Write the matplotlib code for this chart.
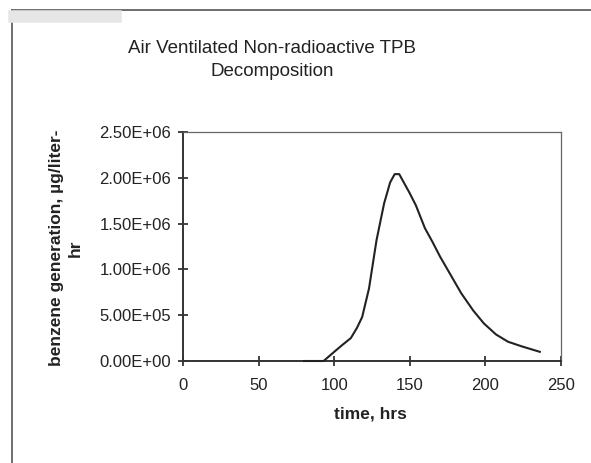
import numpy as np
import matplotlib.pyplot as plt
from matplotlib.ticker import FuncFormatter
from matplotlib.lines import Line2D

plt.rcParams['font.family'] = ['Liberation Sans', 'DejaVu Sans']

#--- Values
time_hrs = [80, 85, 90, 93, 100, 105, 111, 115, 118.5, 123, 128, 133, 137, 140, 143,
            146, 150, 154, 160, 165, 170, 177, 184, 192, 199, 207, 215, 224, 230, 236]
benzene = [0, 0, 0, 0, 0.10e6, 0.17e6, 0.25e6, 0.36e6, 0.48e6, 0.79e6, 1.32e6, 1.72e6,
           1.95e6, 2.04e6, 2.04e6, 1.95e6, 1.83e6, 1.70e6, 1.45e6, 1.30e6, 1.14e6,
           0.94e6, 0.74e6, 0.55e6, 0.41e6, 0.29e6, 0.21e6, 0.16e6, 0.13e6, 0.10e6]
x_ticks = [0, 50, 100, 150, 200, 250]
y_ticks = [0, 0.5e6, 1.0e6, 1.5e6, 2.0e6, 2.5e6]

W, H = 591, 463
fig = plt.figure(figsize=(W / 100, H / 100), dpi=100)

#--- Chart-area frame (top and left edges visible in the scan)
fig.add_artist(Line2D([12 / W, 12 / W], [0, 1 - 10 / H], color='#555555', lw=1.2))
fig.add_artist(Line2D([12 / W, 1], [1 - 10 / H, 1 - 10 / H], color='#555555', lw=1.2))
fig.add_artist(Line2D([14 / W, 115 / W], [1 - 16 / H, 1 - 16 / H], color='#e6e6e6', lw=9))

ax = fig.add_axes([183 / W, 1 - 361 / H, (561 - 183) / W, (361 - 132) / H])
ax.plot(time_hrs, benzene, color='#222222', lw=1.5, zorder=3, clip_on=False)

ax.set_xlim(0, 250)
ax.set_ylim(0, 2.5e6)
ax.set_xticks(x_ticks)
ax.set_yticks(y_ticks)
ax.yaxis.set_major_formatter(FuncFormatter(lambda v, p: f"{v:.2E}"))
ax.tick_params(direction='inout', length=7, width=1.2, labelsize=12, colors='#222222')
ax.tick_params(axis='x', pad=9)
ax.tick_params(axis='y', pad=5)

for side in ['left', 'bottom']:
    ax.spines[side].set_linewidth(1.4)
    ax.spines[side].set_color('#333333')
for side in ['top', 'right']:
    ax.spines[side].set_linewidth(0.9)
    ax.spines[side].set_color('#666666')

fig.text(272 / W, 1 - 60 / H, "Air Ventilated Non-radioactive TPB\nDecomposition",
         ha='center', va='center', fontsize=13.5, linespacing=1.45, color='#222222')
fig.text(370 / W, 1 - 414 / H, "time, hrs", ha='center', va='center',
         fontsize=12.5, fontweight='bold', color='#222222')
fig.text(66 / W, 1 - 248 / H, "benzene generation, \u00b5g/liter-\nhr", ha='center', va='center',
         rotation=90, fontsize=12.5, fontweight='bold', color='#222222', linespacing=1.3)

fig.savefig("out.png", dpi=100)
